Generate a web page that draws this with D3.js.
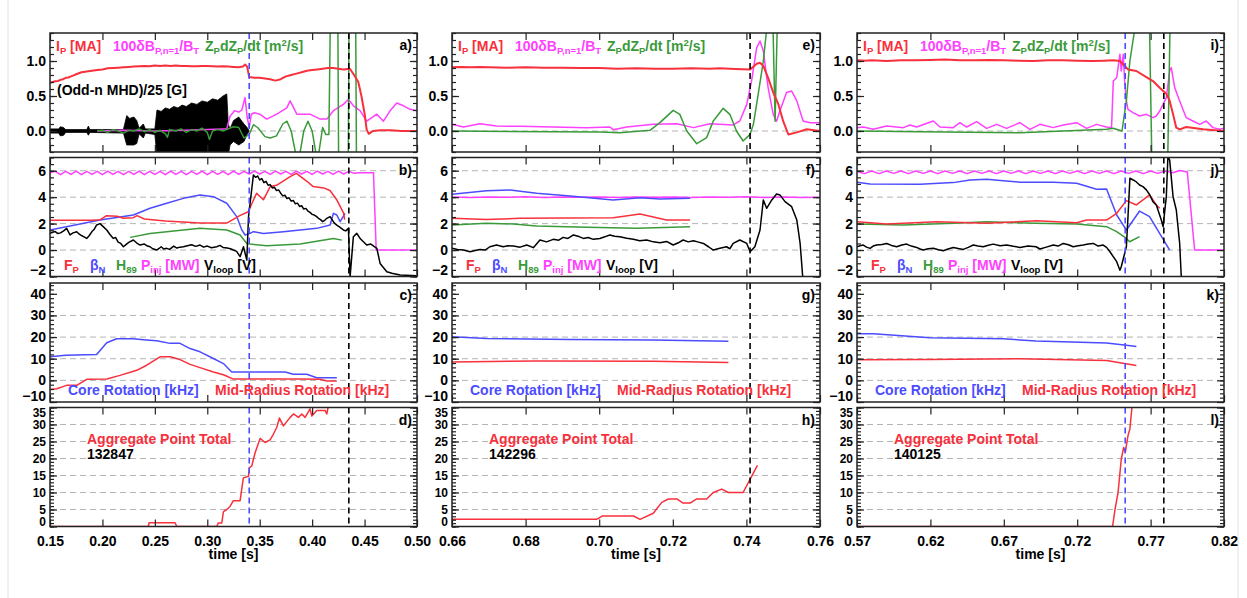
<!DOCTYPE html>
<html>
<head>
<meta charset="utf-8">
<script src="https://cdn.jsdelivr.net/npm/d3@7"></script>
<style>
  body { margin: 0; background: #fff; }
  svg text { font-family: 'Liberation Sans', Arial, Helvetica, sans-serif; font-weight: bold; }
</style>
</head>
<body>
<div id="chart"></div>
<script>
// tick labels and annotations
const xTicks1 = [0.15, 0.20, 0.25, 0.30, 0.35, 0.40, 0.45, 0.50];
const xTicks2 = [0.66, 0.68, 0.70, 0.72, 0.74, 0.76];
const xTicks3 = [0.57, 0.62, 0.67, 0.72, 0.77, 0.82];
const yTicksA = [0.0, 0.5, 1.0];
const yTicksB = [-2, 0, 2, 4, 6];
const yTicksC = [-10, 0, 10, 20, 30, 40];
const yTicksD = [0, 5, 10, 15, 20, 25, 30, 35];
const shots = ['132847', '142296', '140125'];
const panelLetters = [['a)', 'b)', 'c)', 'd)'], ['e)', 'f)', 'g)', 'h)'], ['i)', 'j)', 'k)', 'l)']];
const blueMarks = [[0.34], [], [0.7527]];
const blackMarks = [[0.435], [0.741], [0.779]];

// ---- shot 132847 ----
const col1Ip = [[0.150,0.69],[0.1525,0.70],[0.155,0.71],[0.1575,0.715],[0.160,0.73],[0.1625,0.74],[0.165,0.76],[0.1675,0.765],[0.170,0.78],[0.1725,0.795],[0.175,0.81],[0.1775,0.825],[0.180,0.84],[0.185,0.85],[0.190,0.86],[0.195,0.87],[0.200,0.88],[0.205,0.895],[0.210,0.90],[0.215,0.905],[0.220,0.91],[0.225,0.915],[0.230,0.92],[0.235,0.925],[0.240,0.93],[0.245,0.925],[0.250,0.935],[0.255,0.93],[0.260,0.935],[0.265,0.93],[0.270,0.935],[0.275,0.93],[0.280,0.93],[0.285,0.925],[0.290,0.925],[0.295,0.93],[0.300,0.93],[0.305,0.925],[0.310,0.92],[0.315,0.925],[0.320,0.92],[0.325,0.915],[0.330,0.91],[0.334,0.92],[0.336,0.95],[0.338,0.92],[0.340,0.77],[0.345,0.76],[0.350,0.76],[0.355,0.75],[0.360,0.74],[0.365,0.72],[0.370,0.74],[0.375,0.78],[0.380,0.80],[0.385,0.82],[0.390,0.84],[0.395,0.86],[0.400,0.87],[0.405,0.88],[0.410,0.89],[0.415,0.90],[0.420,0.90],[0.425,0.89],[0.430,0.88],[0.436,0.89],[0.440,0.80],[0.444,0.70],[0.447,0.50],[0.450,0.25],[0.452,0.02],[0.454,-0.04],[0.458,0.00],[0.465,0.01],[0.475,0.01],[0.485,0.00],[0.500,0.00]];
const col1Dbp = [[0.195,0.0],[0.22,0.01],[0.25,0.0],[0.28,0.01],[0.30,0.02],[0.315,0.03],[0.3186,0.03],[0.3217,0.21],[0.326,0.29],[0.330,0.27],[0.333,0.30],[0.336,0.48],[0.338,0.20],[0.340,0.05],[0.342,0.24],[0.345,0.26],[0.350,0.24],[0.3567,0.17],[0.3663,0.24],[0.3758,0.33],[0.379,0.43],[0.3854,0.24],[0.398,0.24],[0.4076,0.17],[0.414,0.17],[0.4203,0.29],[0.4298,0.38],[0.4346,0.45],[0.4394,0.36],[0.4457,0.29],[0.452,0.14],[0.4617,0.24],[0.468,0.14],[0.4744,0.29],[0.4807,0.40],[0.4871,0.36],[0.4934,0.31],[0.500,0.29]];
const col1Zdz = [[0.195,0.0],[0.200,0.01],[0.205,-0.02],[0.210,0.02],[0.215,0.0],[0.220,-0.03],[0.225,0.01],[0.230,0.0],[0.235,0.03],[0.240,-0.01],[0.245,0.02],[0.250,-0.02],[0.255,0.01],[0.260,-0.04],[0.262,-0.09],[0.264,0.02],[0.270,0.0],[0.275,0.03],[0.280,-0.02],[0.285,0.02],[0.290,0.0],[0.295,0.04],[0.300,-0.02],[0.302,-0.12],[0.305,0.0],[0.310,0.02],[0.315,0.0],[0.320,0.03],[0.325,0.06],[0.330,0.05],[0.335,-0.10],[0.340,-0.05],[0.344,0.09],[0.348,0.05],[0.355,-0.08],[0.360,-0.10],[0.366,-0.07],[0.372,0.10],[0.376,0.14],[0.380,0.0],[0.384,-0.30],[0.388,-0.35],[0.392,0.0],[0.396,0.14],[0.400,0.0],[0.404,-0.35],[0.406,-0.35],[0.410,0.05],[0.413,-0.05],[0.416,-0.05],[0.4185,3.0],[0.424,3.0],[0.4262,-3.0],[0.4335,-3.0],[0.4357,3.0],[0.441,3.0],[0.4432,-3.0],[0.448,-3.0]];
// odd-n MHD envelope: [t, low, high]
const col1OddN = [[0.150,-0.03,0.03],[0.158,-0.03,0.03],[0.160,-0.07,0.06],[0.163,-0.06,0.05],[0.165,-0.02,0.02],[0.185,-0.02,0.02],[0.1866,-0.06,0.07],[0.188,-0.02,0.02],[0.220,-0.03,0.02],[0.2232,-0.20,0.22],[0.226,-0.20,0.18],[0.230,-0.20,0.20],[0.2327,-0.18,0.15],[0.235,-0.04,0.04],[0.239,-0.10,0.10],[0.241,-0.03,0.03],[0.250,-0.05,0.03],[0.252,-0.35,0.30],[0.256,-0.35,0.28],[0.260,-0.35,0.33],[0.264,-0.35,0.31],[0.268,-0.35,0.35],[0.272,-0.35,0.33],[0.276,-0.35,0.37],[0.280,-0.35,0.35],[0.285,-0.35,0.40],[0.290,-0.35,0.38],[0.295,-0.35,0.43],[0.300,-0.35,0.41],[0.305,-0.35,0.46],[0.310,-0.35,0.44],[0.315,-0.35,0.50],[0.3186,-0.35,0.53],[0.320,-0.35,0.10],[0.3217,-0.20,0.03],[0.325,-0.15,0.15],[0.330,-0.20,0.20],[0.335,-0.15,0.10],[0.338,-0.05,0.05],[0.340,0.0,0.0]];
const col1Pinj = [[0.150,5.85],[0.155,5.95],[0.160,5.70],[0.165,5.95],[0.170,5.72],[0.175,5.97],[0.180,5.70],[0.185,5.95],[0.190,5.72],[0.195,5.95],[0.200,5.70],[0.205,5.97],[0.210,5.72],[0.215,5.95],[0.220,5.70],[0.225,5.95],[0.230,5.72],[0.235,5.97],[0.240,5.70],[0.245,5.95],[0.250,5.72],[0.255,5.95],[0.260,5.70],[0.265,5.97],[0.270,5.72],[0.275,5.95],[0.280,5.70],[0.285,5.95],[0.290,5.72],[0.295,5.97],[0.300,5.70],[0.305,5.95],[0.310,5.72],[0.315,5.95],[0.320,5.70],[0.325,5.97],[0.330,5.72],[0.335,5.95],[0.340,5.75],[0.345,5.97],[0.350,5.75],[0.355,5.95],[0.360,5.72],[0.365,5.97],[0.370,5.75],[0.375,5.95],[0.380,5.72],[0.385,5.97],[0.390,5.75],[0.395,5.95],[0.400,5.72],[0.405,5.97],[0.410,5.75],[0.415,5.95],[0.420,5.72],[0.425,5.97],[0.430,5.75],[0.435,5.95],[0.440,5.80],[0.445,5.85],[0.450,5.85],[0.4585,5.85],[0.4611,0],[0.500,0]];
const col1Fp = [[0.150,2.25],[0.190,2.25],[0.198,2.30],[0.204,2.60],[0.214,2.55],[0.220,2.40],[0.2295,2.45],[0.233,2.60],[0.240,2.35],[0.260,2.20],[0.293,2.05],[0.319,2.05],[0.331,2.60],[0.339,2.90],[0.347,4.30],[0.3535,3.80],[0.360,4.80],[0.366,4.90],[0.379,5.55],[0.385,5.80],[0.395,5.20],[0.401,4.80],[0.411,4.70],[0.417,4.50],[0.4235,3.80],[0.430,2.80],[0.431,2.30]];
const col1BetaN = [[0.150,1.52],[0.1977,2.27],[0.2295,2.65],[0.2454,3.16],[0.2613,3.54],[0.2772,3.91],[0.2931,4.17],[0.3058,4.04],[0.3186,3.54],[0.3281,2.53],[0.3329,1.52],[0.336,1.14],[0.3408,1.26],[0.344,1.39],[0.3535,1.26],[0.3726,1.39],[0.3885,1.52],[0.4044,1.64],[0.4171,1.89],[0.4203,2.78],[0.4235,2.65],[0.4267,2.15],[0.4314,2.78]];
const col1H89 = [[0.2264,0.96],[0.2454,1.26],[0.2772,1.52],[0.2931,1.64],[0.3186,1.52],[0.3313,1.14],[0.3377,0.50],[0.3408,0.45],[0.3567,0.33],[0.3885,0.45],[0.4203,0.88],[0.4283,0.75]];
const col1Vloop = [[0.150,1.26],[0.1525,1.35],[0.155,1.40],[0.1575,1.25],[0.160,1.30],[0.163,1.45],[0.1659,1.64],[0.1691,1.14],[0.172,1.30],[0.1755,1.39],[0.178,1.20],[0.180,1.10],[0.1825,1.00],[0.185,0.88],[0.1875,1.10],[0.190,1.40],[0.192,1.55],[0.1945,1.90],[0.1977,2.00],[0.201,1.75],[0.2041,1.52],[0.207,1.20],[0.2104,0.88],[0.2125,0.95],[0.215,0.60],[0.2175,0.50],[0.220,0.25],[0.223,0.45],[0.2255,0.60],[0.2295,0.76],[0.2325,0.55],[0.2359,0.38],[0.240,0.45],[0.243,0.30],[0.2454,0.25],[0.248,0.10],[0.2518,0.00],[0.254,0.12],[0.256,0.25],[0.2585,0.08],[0.2613,0.13],[0.264,0.05],[0.268,0.30],[0.271,0.15],[0.274,0.22],[0.2772,0.25],[0.281,0.32],[0.285,0.40],[0.289,0.28],[0.2931,0.38],[0.2965,0.22],[0.300,0.30],[0.304,0.18],[0.309,0.25],[0.312,0.35],[0.315,0.20],[0.319,0.15],[0.322,0.10],[0.3249,0.00],[0.328,-0.10],[0.3313,-0.50],[0.3345,0.25],[0.3377,-0.76],[0.3393,2.50],[0.344,5.68],[0.346,5.50],[0.348,5.60],[0.350,5.30],[0.352,5.40],[0.354,5.10],[0.356,5.20],[0.358,4.90],[0.360,4.95],[0.362,4.70],[0.364,4.75],[0.366,4.50],[0.368,4.55],[0.370,4.30],[0.372,4.10],[0.374,4.15],[0.376,3.90],[0.378,3.95],[0.380,3.70],[0.382,3.75],[0.384,3.50],[0.386,3.55],[0.388,3.30],[0.390,3.35],[0.392,3.10],[0.394,3.15],[0.396,2.95],[0.398,2.85],[0.400,2.70],[0.402,2.65],[0.404,2.55],[0.406,2.40],[0.408,2.30],[0.410,2.15],[0.412,2.25],[0.414,2.40],[0.4171,2.53],[0.419,2.30],[0.421,2.05],[0.4235,1.89],[0.426,1.75],[0.4298,1.52],[0.432,1.45],[0.4346,1.64],[0.4362,-2.02],[0.4393,1.01],[0.4426,1.26],[0.446,0.85],[0.4489,0.63],[0.452,0.38],[0.456,0.45],[0.4617,0.13],[0.4648,-1.01],[0.4712,-1.64],[0.476,-1.75],[0.4839,-1.89],[0.4998,-1.95]];
const col1Core = [[0.149,10.9],[0.165,11.6],[0.1945,12.0],[0.2041,17.4],[0.2136,19.2],[0.2295,19.2],[0.239,18.8],[0.2518,18.3],[0.2645,17.1],[0.274,17.1],[0.2836,14.7],[0.2931,13.2],[0.3058,10.1],[0.3154,7.75],[0.3233,3.9],[0.3742,3.9],[0.3821,2.8],[0.3949,2.8],[0.4044,1.2],[0.4235,1.2]];
const col1Mid = [[0.149,-4.3],[0.1564,-3.9],[0.1659,-2.3],[0.1755,-2.3],[0.185,0.5],[0.2041,0.6],[0.2168,2.3],[0.2327,4.65],[0.2422,7.0],[0.255,10.9],[0.2645,10.9],[0.274,9.6],[0.2836,7.4],[0.2931,5.9],[0.3058,3.9],[0.3154,2.6],[0.3249,0.6],[0.3885,0.6],[0.4076,0.5],[0.414,-0.3],[0.4235,-0.3]];
const col1Points = [[0.15,0],[0.2438,0],[0.2445,1.1],[0.2693,1.1],[0.2709,0],[0.309,0],[0.3105,1.0],[0.3138,1.0],[0.3154,4.4],[0.3186,5.0],[0.3217,5.9],[0.3249,7.6],[0.3313,7.6],[0.3344,14.3],[0.3393,14.8],[0.3402,17.3],[0.3424,17.8],[0.3456,21.7],[0.3504,25.9],[0.3551,24.7],[0.3599,25.5],[0.3631,27.2],[0.3663,29.2],[0.3688,31.9],[0.3726,29.6],[0.379,32.1],[0.3822,33.1],[0.3869,32.1],[0.3901,33.1],[0.3933,32.1],[0.398,34.6],[0.3997,32.5],[0.4044,34.1],[0.4124,34.1],[0.414,33.1],[0.4155,35.5]];

// ---- shot 142296 ----
const col2Ip = [[0.660,0.91],[0.6625,0.915],[0.665,0.91],[0.6675,0.915],[0.670,0.91],[0.675,0.905],[0.680,0.91],[0.685,0.905],[0.690,0.905],[0.695,0.90],[0.700,0.90],[0.705,0.89],[0.710,0.895],[0.715,0.89],[0.720,0.89],[0.725,0.895],[0.730,0.89],[0.7328,0.895],[0.737,0.885],[0.741,0.88],[0.7428,0.96],[0.7437,0.976],[0.7446,0.93],[0.7459,0.76],[0.7473,0.55],[0.7487,0.38],[0.750,0.14],[0.7514,-0.05],[0.7537,-0.02],[0.7564,0.024],[0.760,0.0]];
const col2Dbp = [[0.660,0.095],[0.6631,0.057],[0.6676,0.105],[0.6721,0.071],[0.6785,0.067],[0.6875,0.057],[0.6966,0.048],[0.7029,0.057],[0.7038,0.019],[0.7075,0.057],[0.7147,0.095],[0.7211,0.105],[0.7256,0.048],[0.7301,0.105],[0.7364,0.086],[0.7382,0.143],[0.7401,0.38],[0.7414,0.714],[0.7428,1.19],[0.7437,1.286],[0.7446,1.143],[0.7459,0.62],[0.7473,0.238],[0.7482,0.14],[0.7491,0.286],[0.7509,0.55],[0.7523,0.571],[0.7537,0.43],[0.7554,0.143],[0.7573,0.119],[0.760,0.119]];
const col2Zdz = [[0.660,0.0],[0.6875,-0.01],[0.7002,-0.014],[0.7056,-0.024],[0.7138,0.01],[0.7165,0.119],[0.7201,0.295],[0.7219,0.238],[0.7238,0.0],[0.7265,-0.181],[0.7292,-0.095],[0.731,0.143],[0.7337,0.324],[0.7355,0.238],[0.7373,0.0],[0.7391,-0.143],[0.741,-0.048],[0.7419,0.095],[0.7432,0.524],[0.7446,1.0],[0.7455,1.45],[0.746,2.5],[0.7468,2.5],[0.7478,0.14],[0.7488,2.5]];
const col2Pinj = [[0.660,4.02],[0.665,3.98],[0.670,4.02],[0.675,3.99],[0.680,4.03],[0.685,3.98],[0.690,4.02],[0.695,3.99],[0.700,4.01],[0.705,3.97],[0.710,4.02],[0.715,3.99],[0.720,4.02],[0.725,3.98],[0.730,4.02],[0.735,3.99],[0.740,4.04],[0.745,3.97],[0.750,4.02],[0.755,3.98],[0.760,3.99]];
const col2Fp = [[0.660,2.40],[0.6694,2.32],[0.6785,2.40],[0.7038,2.45],[0.7111,2.72],[0.7183,2.27],[0.7247,2.27]];
const col2BetaN = [[0.660,4.22],[0.6694,4.49],[0.6758,4.55],[0.683,4.29],[0.6921,4.09],[0.7038,3.79],[0.7111,3.96],[0.7165,3.86],[0.7247,3.91]];
const col2H89 = [[0.660,1.89],[0.6694,2.02],[0.6767,1.97],[0.683,1.82],[0.6966,1.72],[0.7102,1.64],[0.7247,1.77]];
const col2Vloop = [[0.660,0.13],[0.6615,0.05],[0.6631,0.0],[0.6649,-0.13],[0.666,-0.05],[0.6676,0.05],[0.669,0.0],[0.6703,0.25],[0.6721,0.38],[0.6739,0.25],[0.6752,0.32],[0.6767,0.30],[0.6785,0.22],[0.6803,0.38],[0.6821,0.18],[0.6839,0.76],[0.6857,0.62],[0.6875,0.81],[0.689,0.75],[0.6902,0.96],[0.6915,0.88],[0.693,1.14],[0.6945,1.02],[0.6957,0.88],[0.697,0.95],[0.6984,0.81],[0.7002,0.88],[0.7015,1.00],[0.7029,1.14],[0.7042,1.05],[0.7056,1.01],[0.7075,0.90],[0.7093,0.81],[0.711,0.70],[0.7129,0.76],[0.7147,0.62],[0.7165,0.56],[0.7183,0.65],[0.7201,0.38],[0.7215,0.55],[0.7228,0.76],[0.7242,0.62],[0.7256,0.71],[0.727,0.60],[0.7283,0.50],[0.7297,0.25],[0.731,0.0],[0.7328,0.13],[0.7346,0.25],[0.7355,0.10],[0.7364,0.50],[0.7382,0.76],[0.7401,0.50],[0.741,-0.13],[0.7423,0.25],[0.7437,1.52],[0.7446,3.79],[0.7455,3.16],[0.7469,3.79],[0.7482,4.24],[0.7491,4.17],[0.7505,3.66],[0.7523,3.28],[0.7537,2.27],[0.7546,0.50],[0.7553,-2.02],[0.7556,-2.5]];
const col2Core = [[0.660,20.2],[0.6694,19.4],[0.6921,18.9],[0.7147,18.6],[0.7351,18.1]];
const col2Mid = [[0.660,8.5],[0.683,9.0],[0.7147,8.8],[0.7351,8.2]];
const col2Points = [[0.660,2.1],[0.6993,2.1],[0.7009,3.1],[0.7093,3.1],[0.7111,2.1],[0.7147,3.9],[0.717,7.1],[0.7188,8.1],[0.7211,8.1],[0.7228,6.9],[0.7247,6.9],[0.7265,8.1],[0.7292,8.1],[0.731,10.0],[0.7333,11.0],[0.7351,10.0],[0.7391,10.0],[0.743,18.0]];

// ---- shot 140125 ----
const col3Ip = [[0.570,1.01],[0.575,1.005],[0.580,1.01],[0.590,1.00],[0.600,1.01],[0.610,1.01],[0.620,1.015],[0.630,1.02],[0.640,1.01],[0.650,1.01],[0.660,1.015],[0.670,1.01],[0.680,1.005],[0.690,1.00],[0.700,1.01],[0.710,1.01],[0.720,1.005],[0.730,1.00],[0.738,1.005],[0.7446,1.01],[0.7491,1.0],[0.7514,0.95],[0.7546,0.88],[0.7603,0.857],[0.7671,0.771],[0.7716,0.714],[0.7762,0.619],[0.7807,0.533],[0.783,0.43],[0.7853,0.238],[0.7875,0.048],[0.7898,0.024],[0.7943,0.057],[0.8057,0.024],[0.820,0.0]];
const col3Dbp = [[0.570,0.048],[0.5743,0.057],[0.5811,0.024],[0.5902,0.071],[0.597,0.057],[0.6015,0.048],[0.6061,0.086],[0.6106,0.057],[0.622,0.143],[0.6265,0.057],[0.6356,0.048],[0.6401,0.119],[0.6447,0.057],[0.6515,0.133],[0.6583,0.038],[0.6651,0.095],[0.6719,0.038],[0.681,0.119],[0.6878,0.024],[0.6946,0.095],[0.7037,0.048],[0.7105,0.086],[0.7196,0.119],[0.7264,0.038],[0.7332,0.095],[0.740,0.057],[0.7434,0.048],[0.7446,0.714],[0.7469,0.762],[0.7491,1.095],[0.750,0.857],[0.7514,1.095],[0.7523,0.714],[0.7535,0.43],[0.7546,0.31],[0.758,0.262],[0.7625,0.214],[0.7671,0.238],[0.7716,0.19],[0.7739,0.214],[0.7762,0.286],[0.7785,0.38],[0.7807,0.476],[0.783,0.857],[0.7841,0.905],[0.7864,0.62],[0.7898,0.43],[0.792,0.31],[0.7943,0.19],[0.7988,0.143],[0.8034,0.095],[0.8079,0.143],[0.8125,0.048],[0.817,0.024],[0.820,0.038]];
const col3Zdz = [[0.570,0.0],[0.6129,-0.01],[0.681,-0.024],[0.740,0.024],[0.7446,0.04],[0.7505,0.0],[0.7535,0.43],[0.7559,1.0],[0.7588,1.4],[0.762,3.0],[0.768,3.0],[0.773,-3.0],[0.7795,-3.0],[0.7845,3.0],[0.787,3.0]];
const col3Pinj = [[0.570,5.95],[0.575,5.78],[0.580,5.98],[0.585,5.78],[0.590,5.98],[0.595,5.80],[0.600,5.98],[0.605,5.78],[0.610,5.98],[0.615,5.80],[0.620,5.98],[0.625,5.78],[0.630,5.98],[0.635,5.80],[0.640,5.98],[0.645,5.78],[0.650,5.98],[0.655,5.80],[0.660,5.98],[0.665,5.78],[0.670,5.98],[0.675,5.80],[0.680,5.98],[0.685,5.78],[0.690,5.98],[0.695,5.80],[0.700,5.98],[0.705,5.78],[0.710,5.98],[0.715,5.80],[0.720,5.98],[0.725,5.78],[0.730,5.98],[0.735,5.80],[0.740,5.98],[0.745,5.78],[0.750,5.98],[0.755,5.80],[0.760,5.98],[0.765,5.78],[0.770,5.98],[0.775,5.80],[0.780,5.98],[0.785,5.85],[0.790,6.02],[0.795,5.90],[0.800,0],[0.820,0]];
const col3Fp = [[0.570,2.15],[0.5902,1.97],[0.6243,2.15],[0.6583,2.02],[0.6924,2.22],[0.7196,2.07],[0.7264,2.27],[0.740,2.27],[0.7469,2.78],[0.7535,3.74],[0.7603,3.41],[0.7693,4.17],[0.7739,3.41],[0.7762,3.16]];
const col3BetaN = [[0.570,5.13],[0.5789,5.0],[0.6129,4.97],[0.6356,5.1],[0.647,5.3],[0.6583,5.35],[0.6697,5.25],[0.681,5.13],[0.7037,5.13],[0.7196,5.05],[0.7332,4.6],[0.740,4.62],[0.7469,2.65],[0.7535,1.52],[0.7625,2.95],[0.7693,2.53],[0.783,0.0]];
const col3H89 = [[0.570,1.97],[0.6015,1.89],[0.6356,2.02],[0.6583,2.15],[0.6924,2.02],[0.7196,1.97],[0.740,1.77],[0.7469,1.39],[0.7535,0.88],[0.7557,0.63],[0.7625,1.01]];
const col3Vloop = [[0.570,0.25],[0.572,0.32],[0.5743,0.38],[0.5765,0.22],[0.5789,0.13],[0.581,0.30],[0.5834,0.38],[0.587,0.42],[0.5902,0.5],[0.5935,0.35],[0.597,0.25],[0.6005,0.38],[0.6038,0.45],[0.607,0.30],[0.6106,0.2],[0.613,0.08],[0.6152,0.0],[0.6185,0.10],[0.622,0.13],[0.6255,0.02],[0.6288,-0.05],[0.632,0.08],[0.6356,0.2],[0.639,0.12],[0.6424,0.05],[0.6458,0.20],[0.6492,0.38],[0.6525,0.30],[0.656,0.25],[0.6595,0.36],[0.6628,0.45],[0.6675,0.32],[0.6719,0.38],[0.6765,0.28],[0.681,0.2],[0.6865,0.30],[0.692,0.25],[0.6946,0.08],[0.699,0.22],[0.7037,0.38],[0.707,0.30],[0.7105,0.5],[0.714,0.40],[0.7173,0.25],[0.7207,0.32],[0.7241,0.38],[0.7275,0.45],[0.7309,0.5],[0.7343,0.30],[0.7377,0.38],[0.740,0.20],[0.7423,-0.13],[0.7469,-0.88],[0.7491,-1.52],[0.750,-1.26],[0.7535,0.25],[0.7546,2.53],[0.7559,5.43],[0.7581,5.3],[0.7603,5.15],[0.7625,4.92],[0.7648,4.80],[0.7671,4.55],[0.7693,4.20],[0.7716,3.66],[0.7739,3.41],[0.7773,2.27],[0.7785,1.77],[0.7807,4.04],[0.7818,7.07],[0.783,6.8],[0.7853,4.04],[0.7875,3.03],[0.7898,0.5],[0.7909,-2.02],[0.7915,-2.5]];
const col3Core = [[0.570,21.5],[0.5811,21.5],[0.6197,19.7],[0.6697,19.2],[0.692,18.2],[0.740,17.3],[0.7535,16.2],[0.7603,15.7]];
const col3Mid = [[0.570,9.5],[0.6197,9.7],[0.681,10.0],[0.740,9.2],[0.7603,6.9]];
const col3Points = [[0.570,0],[0.7441,0],[0.7457,4.9],[0.7478,9.9],[0.750,19.7],[0.7516,23.2],[0.7528,21.9],[0.7546,26.7],[0.7559,28.7],[0.7575,36.0]];

const RED = '#f8303c', MAG = '#ff40ff', GRN = '#3a9a3a', BLU = '#4c4cff', BLK = '#000';

const svg = d3.select('#chart').append('svg')
  .attr('width', 1247)
  .attr('height', 598);

// faint page frame
svg.append('line').attr('x1', 8).attr('x2', 8).attr('y1', 0).attr('y2', 598).attr('stroke', '#e2e2e2');
svg.append('line').attr('x1', 1238).attr('x2', 1238).attr('y1', 0).attr('y2', 598).attr('stroke', '#e2e2e2');

const H = 119;
const rows = [
  { top: 33, domain: [-0.3, 1.4], ticks: yTicksA, minor: 0.1, grid: [0], fmt: d3.format('.1f'), size: 14 },
  { top: 157.5, domain: [-2, 7], ticks: yTicksB, minor: 0.5, grid: [0, 2, 4, 6], fmt: d3.format('d'), size: 14 },
  { top: 283, domain: [-10, 45], ticks: yTicksC, minor: 2, grid: [0, 10, 20, 30], fmt: d3.format('d'), size: 14 },
  { top: 407.5, domain: [0, 35], ticks: yTicksD, minor: 1, grid: [5, 10, 15, 20, 25, 30], fmt: d3.format('d'), size: 12 }
];

const columns = [
  { x0: 50, x1: 417, domain: [0.15, 0.50], ticks: xTicks1, odd: col1OddN,
    series: [
      [[col1Dbp, MAG, 1.5], [col1Zdz, GRN, 1.5], [col1Ip, RED, 2]],
      [[col1Pinj, MAG, 1.5], [col1H89, GRN, 1.5], [col1BetaN, BLU, 1.5], [col1Fp, RED, 1.5], [col1Vloop, BLK, 1.5]],
      [[col1Core, BLU, 1.5], [col1Mid, RED, 1.5]],
      [[col1Points, RED, 1.5]]
    ] },
  { x0: 452, x1: 820, domain: [0.66, 0.76], ticks: xTicks2, odd: null,
    series: [
      [[col2Dbp, MAG, 1.5], [col2Zdz, GRN, 1.5], [col2Ip, RED, 2]],
      [[col2Pinj, MAG, 1.5], [col2H89, GRN, 1.5], [col2BetaN, BLU, 1.5], [col2Fp, RED, 1.5], [col2Vloop, BLK, 1.5]],
      [[col2Core, BLU, 1.5], [col2Mid, RED, 1.5]],
      [[col2Points, RED, 1.5]]
    ] },
  { x0: 857, x1: 1224, domain: [0.57, 0.82], ticks: xTicks3, odd: null,
    series: [
      [[col3Dbp, MAG, 1.5], [col3Zdz, GRN, 1.5], [col3Ip, RED, 2]],
      [[col3Pinj, MAG, 1.5], [col3H89, GRN, 1.5], [col3BetaN, BLU, 1.5], [col3Fp, RED, 1.5], [col3Vloop, BLK, 1.5]],
      [[col3Core, BLU, 1.5], [col3Mid, RED, 1.5]],
      [[col3Points, RED, 1.5]]
    ] }
];

// text with sub/superscripts: parts = [text, colour, 'sub'|'sup'|undefined]
function rich(g, x, y, parts) {
  const t = g.append('text').attr('x', x).attr('y', y).attr('font-size', 14);
  let off = 0;
  parts.forEach(([s, color, mode]) => {
    const target = mode === 'sub' ? 3 : mode === 'sup' ? -5 : 0;
    t.append('tspan')
      .attr('dy', target - off)
      .attr('fill', color)
      .attr('font-size', mode ? 9.5 : 14)
      .text(s);
    off = target;
  });
  return t;
}

function styleAxis(a, size) {
  a.select('.domain').remove();
  a.selectAll('line').attr('stroke', '#222').attr('stroke-width', 1.2);
  a.selectAll('text')
    .attr('font-size', size || 14)
    .attr('font-family', "'Liberation Sans', Arial, sans-serif")
    .attr('font-weight', 'bold')
    .attr('fill', '#000');
}

columns.forEach((col, ci) => {
  const x = d3.scaleLinear().domain(col.domain).range([col.x0, col.x1]);

  rows.forEach((row, ri) => {
    const bottom = row.top + H;
    const y = d3.scaleLinear().domain(row.domain).range([bottom, row.top]);
    const g = svg.append('g');
    const clipId = `clip-${ci}-${ri}`;
    g.append('clipPath').attr('id', clipId)
      .append('rect')
      .attr('x', col.x0).attr('y', row.top)
      .attr('width', col.x1 - col.x0).attr('height', H);

    // dashed grid
    g.append('g').selectAll('line')
      .data(row.grid)
      .join('line')
        .attr('x1', col.x0).attr('x2', col.x1)
        .attr('y1', d => y(d)).attr('y2', d => y(d))
        .attr('stroke', '#b4b4b4')
        .attr('stroke-width', 1)
        .attr('stroke-dasharray', '6,4');

    const plot = g.append('g').attr('clip-path', `url(#${clipId})`);

    if (ri === 0 && col.odd) {
      plot.append('path')
        .datum(col.odd)
        .attr('fill', '#000')
        .attr('stroke', '#000')
        .attr('stroke-width', 0.8)
        .attr('d', d3.area()
          .x(d => x(d[0]))
          .y0(d => y(d[1]))
          .y1(d => y(d[2])));
    }

    const line = d3.line().x(d => x(d[0])).y(d => y(d[1]));
    col.series[ri].forEach(([data, color, w]) => {
      plot.append('path')
        .datum(data)
        .attr('fill', 'none')
        .attr('stroke', color)
        .attr('stroke-width', w)
        .attr('stroke-linejoin', 'round')
        .attr('d', line);
    });

    // event markers
    [[blueMarks[ci], BLU], [blackMarks[ci], BLK]].forEach(([marks, color]) => {
      g.append('g').selectAll('line')
        .data(marks)
        .join('line')
          .attr('x1', d => x(d)).attr('x2', d => x(d))
          .attr('y1', row.top).attr('y2', bottom)
          .attr('stroke', color)
          .attr('stroke-width', 1.6)
          .attr('stroke-dasharray', '6,4');
    });

    // y axes, ticks inward on both sides
    const minorVals = d3.range(row.domain[0], row.domain[1] + 1e-9, row.minor);
    const pad = row.size / 2 - 1;
    g.append('g')
      .attr('transform', `translate(${col.x0},0)`)
      .call(d3.axisLeft(y).tickValues(row.ticks).tickSize(-7).tickPadding(4).tickFormat(row.fmt))
      .call(a => styleAxis(a, row.size))
      .call(a => a.selectAll('text')
        .attr('y', d => Math.max(row.top + pad, Math.min(bottom - pad, y(d))) - y(d)));
    g.append('g')
      .attr('transform', `translate(${col.x0},0)`)
      .call(d3.axisLeft(y).tickValues(minorVals).tickSize(-4).tickFormat(''))
      .call(styleAxis);
    g.append('g')
      .attr('transform', `translate(${col.x1},0)`)
      .call(d3.axisRight(y).tickValues(row.ticks).tickSize(-7).tickFormat(''))
      .call(styleAxis);
    g.append('g')
      .attr('transform', `translate(${col.x1},0)`)
      .call(d3.axisRight(y).tickValues(minorVals).tickSize(-4).tickFormat(''))
      .call(styleAxis);

    // x axes
    g.append('g')
      .attr('transform', `translate(0,${bottom})`)
      .call(d3.axisBottom(x).tickValues(col.ticks).tickSize(-7).tickPadding(9.5)
        .tickFormat(ri === 3 ? d3.format('.2f') : ''))
      .call(styleAxis);
    g.append('g')
      .attr('transform', `translate(0,${row.top})`)
      .call(d3.axisTop(x).tickValues(col.ticks).tickSize(-7).tickFormat(''))
      .call(styleAxis);

    g.append('rect')
      .attr('x', col.x0).attr('y', row.top)
      .attr('width', col.x1 - col.x0).attr('height', H)
      .attr('fill', 'none')
      .attr('stroke', '#222')
      .attr('stroke-width', 1.5);

    g.append('text')
      .attr('x', col.x1 - 5).attr('y', row.top + 17)
      .attr('text-anchor', 'end')
      .attr('font-size', 14)
      .text(panelLetters[ci][ri]);

    // legends
    if (ri === 0) {
      rich(g, col.x0 + 6, row.top + 18, [['I', RED], ['P', RED, 'sub'], [' [MA]', RED]]);
      rich(g, col.x0 + 63, row.top + 18, [['100\u03b4B', MAG], ['P,n=1', MAG, 'sub'], ['/B', MAG], ['T', MAG, 'sub']]);
      rich(g, col.x0 + 155, row.top + 18, [['Z', GRN], ['P', GRN, 'sub'], ['dZ', GRN], ['P', GRN, 'sub'], ['/dt [m', GRN], ['2', GRN, 'sup'], ['/s]', GRN]]);
      if (col.odd) rich(g, col.x0 + 7, row.top + 62, [['(Odd-n MHD)/25 [G]', BLK]]);
    } else if (ri === 1) {
      const yb = bottom - 7;
      rich(g, col.x0 + 14, yb, [['F', RED], ['P', RED, 'sub']]);
      rich(g, col.x0 + 40, yb, [['\u03b2', BLU], ['N', BLU, 'sub']]);
      rich(g, col.x0 + 66, yb, [['H', GRN], ['89', GRN, 'sub']]);
      rich(g, col.x0 + 91, yb, [['P', MAG], ['inj', MAG, 'sub'], [' [MW]', MAG]]);
      rich(g, col.x0 + 154, yb, [['V', BLK], ['loop', BLK, 'sub'], [' [V]', BLK]]);
    } else if (ri === 2) {
      rich(g, col.x0 + 18, bottom - 7, [['Core Rotation [kHz]', BLU]]);
      rich(g, col.x0 + 165, bottom - 7, [['Mid-Radius Rotation [kHz]', RED]]);
    } else {
      rich(g, col.x0 + 37, row.top + 36, [['Aggregate Point Total', RED]]);
      rich(g, col.x0 + 37, row.top + 51, [[shots[ci], BLK]]);
      g.append('text')
        .attr('x', (col.x0 + col.x1) / 2).attr('y', 559)
        .attr('text-anchor', 'middle')
        .attr('font-size', 14)
        .text('time [s]');
    }
  });
});
</script>
</body>
</html>
